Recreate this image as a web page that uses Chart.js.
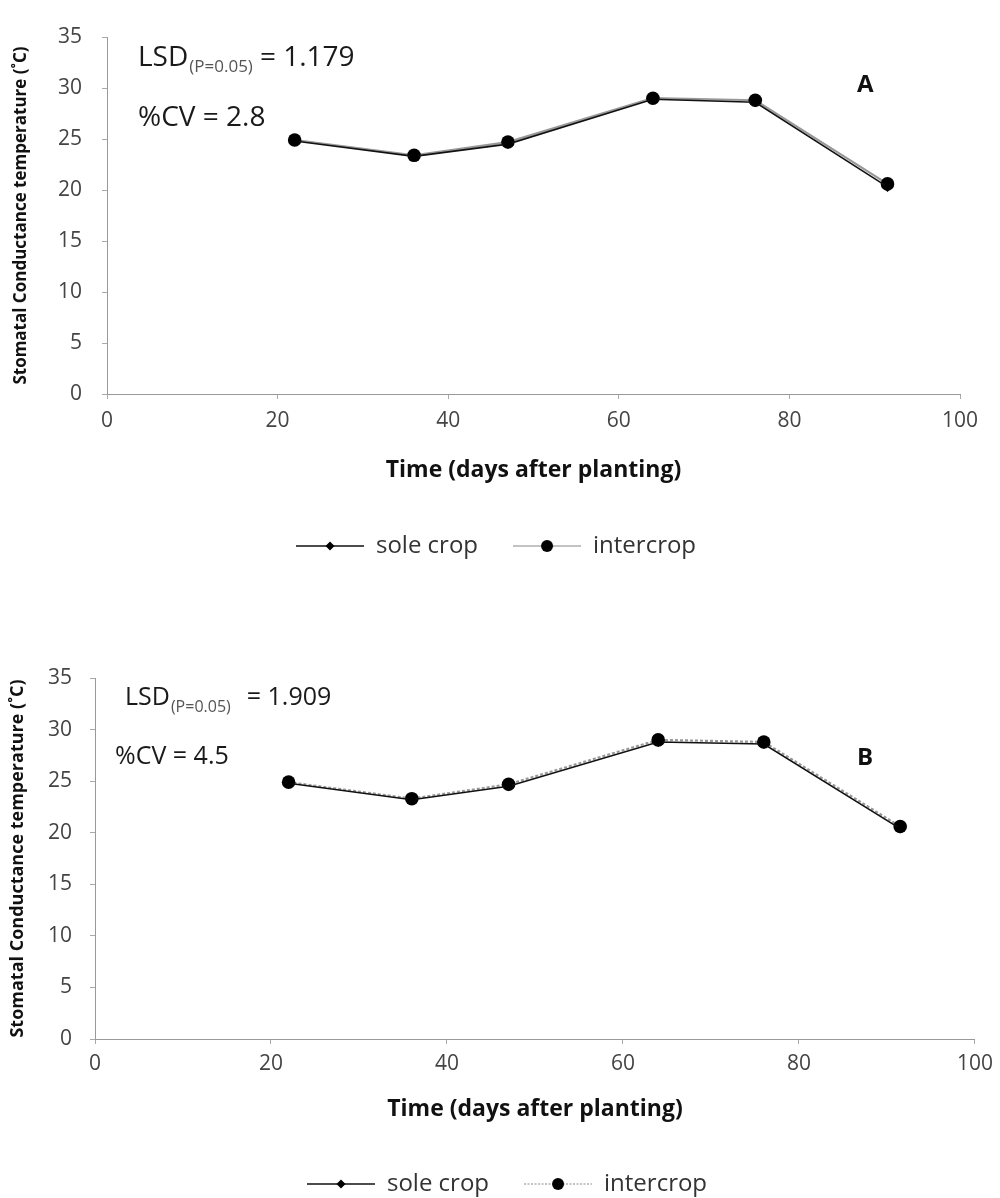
<!DOCTYPE html>
<html>
<head>
<meta charset="utf-8">
<script src="https://cdn.jsdelivr.net/npm/chart.js@4.4.1/dist/chart.umd.min.js"></script>
<style>
body{margin:0;background:#fff;width:1000px;height:1198px;overflow:hidden;position:relative;}
.wrap{position:absolute;left:0;width:1000px;}
</style>
</head>
<body>
<div class="wrap" style="top:0;height:600px"><canvas id="cA"></canvas></div>
<div class="wrap" style="top:600px;height:640px"><canvas id="cB"></canvas></div>
<script>
// days after planting
var days=[22,36,47,64,76,91.5];
// panel A
var soleA=[24.8,23.3,24.5,28.9,28.6,20.3];
var interA=[24.9,23.4,24.7,29.0,28.8,20.6];
// panel B
var soleB=[24.8,23.2,24.5,28.8,28.6,20.4];
var interB=[24.9,23.3,24.7,29.0,28.8,20.6];
// axes
var xTicks=[0,20,40,60,80,100];
var yTicks=[0,5,10,15,20,25,30,35];
var seriesNames=['sole crop','intercrop'];
var xTitle='Time (days after planting)';
var yTitle='Stomatal Conductance temperature (\u02daC)';
// stats text
var lsdA='1.179',cvA='2.8',tagA='A';
var lsdB='1.909',cvB='4.5',tagB='B';

var FF='"Open Sans", "Liberation Sans", sans-serif';

function pts(xs,ys){
    var r=[];
    for(var i=0;i<xs.length;i++)r.push({x:xs[i],y:ys[i]});
    return r;
}

// legend icons: line with marker in the middle
function icon(kind,dotted){
    var cv=document.createElement('canvas');cv.width=68;cv.height=16;
    var c=cv.getContext('2d');
    c.strokeStyle=kind=='sole'?'#111':'#888';
    c.lineWidth=kind=='sole'?1.6:1.2;
    if(dotted)c.setLineDash([2,1.5]);
    c.beginPath();c.moveTo(0,8);c.lineTo(68,8);c.stroke();
    c.setLineDash([]);
    c.fillStyle='#000';c.beginPath();
    if(kind=='sole'){c.moveTo(34,3.5);c.lineTo(38.5,8);c.lineTo(34,12.5);c.lineTo(29.5,8);c.closePath();}
    else{c.arc(34,8,6,0,Math.PI*2);}
    c.fill();
    return cv;
}

var notesPlugin={
    id:'notes',
    afterDraw:function(ch,args,o){
        var c=ch.ctx,a=ch.chartArea;
        c.save();
        c.textBaseline='middle';c.textAlign='left';
        // LSD with subscript
        var x=a.left+o.lsdX,y=a.top+o.lsdY;
        c.fillStyle='#1a1a1a';c.font=o.fs+'px '+FF;
        c.fillText('LSD',x,y);
        var w=c.measureText('LSD').width;
        c.fillStyle='#555';c.font=o.ss+'px '+FF;
        c.fillText('(P=0.05)',x+w+1,y+9);
        var w2=c.measureText('(P=0.05)').width;
        c.fillStyle='#1a1a1a';c.font=o.fs+'px '+FF;
        c.fillText('= '+o.lsd,x+w+w2+o.gap,y);
        // CV
        c.fillText('%CV = '+o.cv,a.left+o.cvX,a.top+o.cvY);
        // panel letter
        c.font='bold 24px '+FF;c.fillStyle='#111';
        c.fillText(o.tag,a.left+o.tagX,a.top+o.tagY);
        c.restore();
    }
};

function mk(id,sole,inter,dotted,L){
    var ctx=document.getElementById(id);
    return new Chart(ctx,{
        type:'line',
        data:{datasets:[
            {label:seriesNames[0],data:pts(days,sole),borderColor:'#111',borderWidth:1.6,backgroundColor:'#000',
             pointStyle:'rectRot',pointRadius:5,pointBackgroundColor:'#000',pointBorderWidth:0,order:0,tension:0},
            {label:seriesNames[1],data:pts(days,inter),borderColor:'#999',borderWidth:2.2,backgroundColor:'#000',
             borderDash:dotted?[3,2]:[],pointStyle:'circle',pointRadius:6.8,pointBackgroundColor:'#000',pointBorderWidth:0,order:1,tension:0}
        ]},
        options:{
            responsive:true,maintainAspectRatio:false,animation:false,
            layout:{padding:{top:L.top,left:L.left,right:L.right,bottom:L.bottom}},
            plugins:{
                tooltip:{enabled:false},
                legend:{position:'bottom',
                    labels:{usePointStyle:true,pointStyleWidth:68,padding:35,color:'#333',font:{family:FF,size:24},
                        generateLabels:function(ch){
                            return [
                                {text:seriesNames[0],pointStyle:icon('sole',false),fontColor:'#333',datasetIndex:0,lineWidth:0,strokeStyle:'rgba(0,0,0,0)',fillStyle:'rgba(0,0,0,0)'},
                                {text:seriesNames[1],pointStyle:icon('inter',dotted),fontColor:'#333',datasetIndex:1,lineWidth:0,strokeStyle:'rgba(0,0,0,0)',fillStyle:'rgba(0,0,0,0)'}
                            ];
                        }}
                },
                notes:L.notes
            },
            scales:{
                x:{type:'linear',min:0,max:100,
                    afterBuildTicks:function(s){s.ticks=xTicks.map(function(v){return {value:v};});},
                    afterFit:function(s){s.height=L.xh;},
                    grid:{display:true,drawOnChartArea:false,drawTicks:true,tickLength:5,color:'#aaa'},
                    border:{color:'#999',width:1},
                    ticks:{color:'#444',font:{family:FF,size:21},padding:L.xpad,maxRotation:0},
                    title:{display:true,text:xTitle,color:'#111',font:{family:FF,size:23,weight:'bold'},padding:{top:0,bottom:L.xtb}}
                },
                y:{min:0,max:35,
                    afterBuildTicks:function(s){s.ticks=yTicks.map(function(v){return {value:v};});},
                    afterFit:function(s){s.width=L.yw;},
                    grid:{display:true,drawOnChartArea:false,drawTicks:true,tickLength:5,color:'#aaa'},
                    border:{color:'#999',width:1},
                    ticks:{color:'#444',font:{family:FF,size:21},padding:L.ypad},
                    title:{display:true,text:yTitle,color:'#111',font:{family:FF,size:L.yts,weight:'bold'},padding:{top:L.ytt,bottom:0}}
                }
            }
        },
        plugins:[notesPlugin]
    });
}

mk('cA',soleA,interA,false,{top:37,left:32,right:40,bottom:32,xh:105,xpad:9,xtb:15,yw:75,ypad:20,ytt:-21,yts:17,
    notes:{lsd:lsdA,cv:cvA,tag:tagA,fs:28,ss:17,lsdX:31,lsdY:21,gap:8,cvX:31,cvY:81,tagX:750,tagY:48}});
mk('cB',soleB,interB,true,{top:78,left:39,right:25,bottom:34,xh:98,xpad:7,xtb:14,yw:56,ypad:18,ytt:-32,yts:18,
    notes:{lsd:lsdB,cv:cvB,tag:tagB,fs:25,ss:16,lsdX:30,lsdY:20,gap:17,cvX:20,cvY:79,tagX:762,tagY:80}});
</script>
</body>
</html>
